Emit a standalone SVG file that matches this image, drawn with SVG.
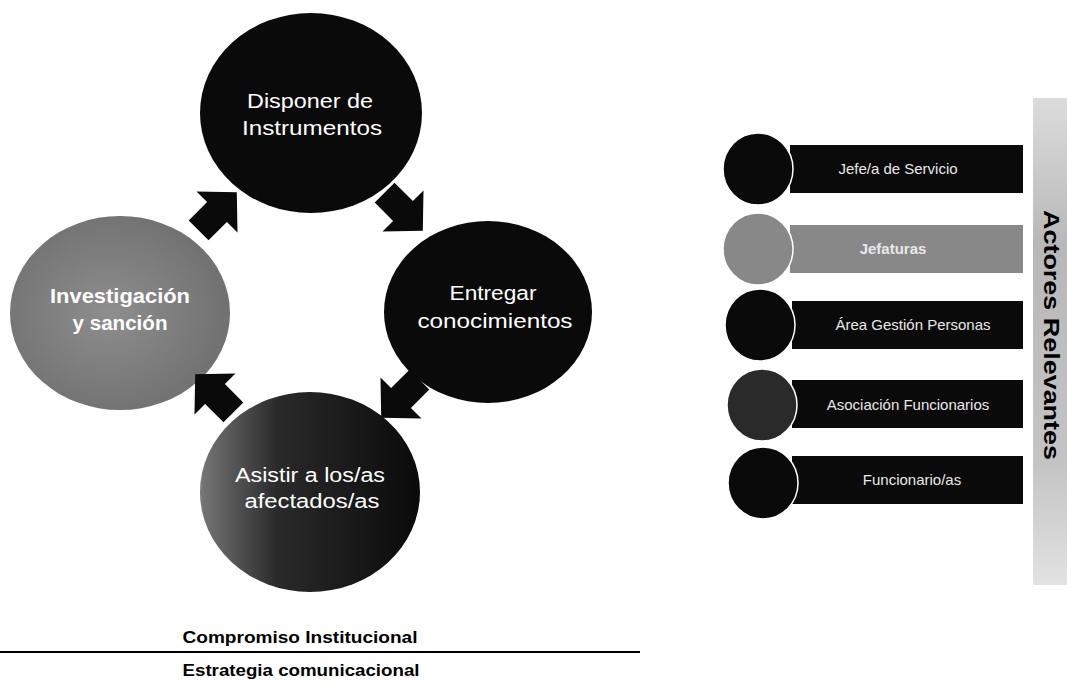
<svg xmlns="http://www.w3.org/2000/svg" width="1067" height="687" viewBox="0 0 1067 687">
  <defs>
    <path id="arr" d="M -26,-14 H 0 V -29 L 28,0 L 0,29 V 14 H -26 Z"/>
    <linearGradient id="gBottom" x1="0" y1="0" x2="1" y2="0">
      <stop offset="0" stop-color="#777"/>
      <stop offset="0.35" stop-color="#2a2a2a"/>
      <stop offset="1" stop-color="#0a0a0a"/>
    </linearGradient>
    <linearGradient id="gStrip" x1="0" y1="0" x2="0" y2="1">
      <stop offset="0" stop-color="#dcdcdc"/>
      <stop offset="0.3" stop-color="#b8b8b8"/>
      <stop offset="0.75" stop-color="#c4c4c4"/>
      <stop offset="1" stop-color="#e2e2e2"/>
    </linearGradient>
    <radialGradient id="gLeft" cx="0.45" cy="0.5" r="0.6">
      <stop offset="0" stop-color="#8e8e8e"/>
      <stop offset="1" stop-color="#6e6e6e"/>
    </radialGradient>
  </defs>
  <style>
    .dark { fill: #0a0a0a; }
    .gray { fill: #888888; }
    .ctext { font-family: "Liberation Sans", Arial, sans-serif; font-size: 20px; fill: #ffffff; text-anchor: middle; }
    .bold { font-weight: bold; }
    .rtext { font-family: "Liberation Sans", Arial, sans-serif; font-size: 15px; fill: #e8e8e8; text-anchor: middle; }
    .btext { font-family: "Liberation Sans", Arial, sans-serif; font-size: 16px; font-weight: bold; fill: #000; text-anchor: middle; }
    .rc { stroke: #ffffff; stroke-width: 1.5; }
  </style>
  <rect width="1067" height="687" fill="#ffffff"/>

  <!-- Cycle nodes -->
  <g id="node-disponer">
    <ellipse cx="311" cy="113" rx="111" ry="100" class="dark"/>
    <text class="ctext" x="310" y="108" textLength="126" lengthAdjust="spacingAndGlyphs">Disponer de</text>
    <text class="ctext" x="312" y="135" textLength="140" lengthAdjust="spacingAndGlyphs">Instrumentos</text>
  </g>
  <g id="node-entregar">
    <ellipse cx="488" cy="312" rx="104" ry="91" class="dark"/>
    <text class="ctext" x="493" y="300" textLength="87" lengthAdjust="spacingAndGlyphs">Entregar</text>
    <text class="ctext" x="495" y="328" textLength="155" lengthAdjust="spacingAndGlyphs">conocimientos</text>
  </g>
  <g id="node-asistir">
    <ellipse cx="310" cy="492" rx="110" ry="100" fill="url(#gBottom)"/>
    <text class="ctext" x="310" y="482" textLength="150" lengthAdjust="spacingAndGlyphs">Asistir a los/as</text>
    <text class="ctext" x="312" y="508" textLength="135" lengthAdjust="spacingAndGlyphs">afectados/as</text>
  </g>
  <g id="node-investigacion">
    <ellipse cx="120" cy="313" rx="110" ry="97" fill="url(#gLeft)"/>
    <text class="ctext bold" x="120" y="303" textLength="140" lengthAdjust="spacingAndGlyphs">Investigación</text>
    <text class="ctext bold" x="120" y="330" textLength="95" lengthAdjust="spacingAndGlyphs">y sanción</text>
  </g>

  <!-- Connectors (block arrows) -->
  <g id="connectors" class="dark">
    <use href="#arr" transform="translate(217,212) rotate(-45)"/>
    <use href="#arr" transform="translate(403,211) rotate(45)"/>
    <use href="#arr" transform="translate(401,398) rotate(135)"/>
    <use href="#arr" transform="translate(215,394) rotate(-135)"/>
  </g>

  <!-- Right panel: actors -->
  <g id="actor-jefe">
    <rect x="790" y="145" width="233" height="48" class="dark"/>
    <ellipse cx="758" cy="169" rx="35" ry="36" class="dark rc"/>
    <text class="rtext" x="898" y="174">Jefe/a de Servicio</text>
  </g>
  <g id="actor-jefaturas">
    <rect x="790" y="225" width="233" height="48" class="gray"/>
    <ellipse cx="758" cy="249" rx="35" ry="36" class="gray rc"/>
    <text class="rtext bold" x="893" y="254" fill="#fff">Jefaturas</text>
  </g>
  <g id="actor-area">
    <rect x="792" y="301" width="231" height="48" class="dark"/>
    <ellipse cx="760" cy="325" rx="35" ry="36" class="dark rc"/>
    <text class="rtext" x="913" y="330">Área Gestión Personas</text>
  </g>
  <g id="actor-asociacion">
    <rect x="792" y="380" width="231" height="48" class="dark"/>
    <ellipse cx="762" cy="405" rx="35" ry="36" fill="#2a2a2a" class="rc"/>
    <text class="rtext" x="908" y="410">Asociación Funcionarios</text>
  </g>
  <g id="actor-funcionarios">
    <rect x="792" y="456" width="231" height="48" class="dark"/>
    <ellipse cx="763" cy="483" rx="35" ry="36" class="dark rc"/>
    <text class="rtext" x="912" y="485">Funcionario/as</text>
  </g>

  <!-- Vertical label strip -->
  <g id="strip-actores">
    <rect x="1033" y="98" width="34" height="487" fill="url(#gStrip)"/>
    <text x="0" y="0" transform="translate(1044,335) rotate(90)" font-family="Liberation Sans, Arial, sans-serif" font-size="22" font-weight="bold" fill="#000" text-anchor="middle" textLength="250" lengthAdjust="spacingAndGlyphs">Actores Relevantes</text>
  </g>

  <!-- Bottom labels -->
  <g id="bottom-labels">
    <text class="btext" x="300" y="643" textLength="235" lengthAdjust="spacingAndGlyphs">Compromiso Institucional</text>
    <line x1="0" y1="652" x2="640" y2="652" stroke="#000" stroke-width="2"/>
    <text class="btext" x="301" y="676" textLength="237" lengthAdjust="spacingAndGlyphs">Estrategia comunicacional</text>
  </g>
</svg>
